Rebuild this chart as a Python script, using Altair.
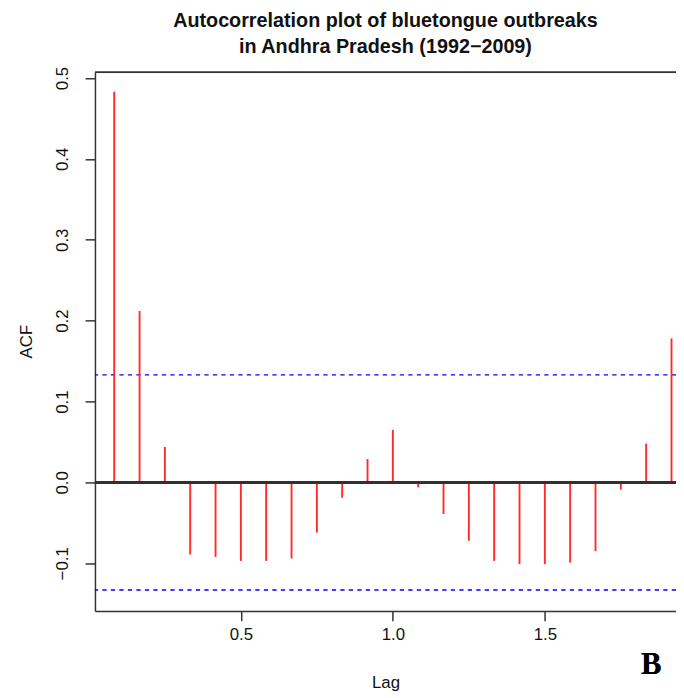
import altair as alt
import pandas as pd

# Lag (in years, monthly data) and autocorrelation values
lags = [0.0833, 0.1667, 0.25, 0.3333, 0.4167, 0.5, 0.5833, 0.6667, 0.75, 0.8333,
        0.9167, 1.0, 1.0833, 1.1667, 1.25, 1.3333, 1.4167, 1.5, 1.5833, 1.6667,
        1.75, 1.8333, 1.9167]
acf_vals = [0.483, 0.212, 0.044, -0.089, -0.092, -0.097, -0.097, -0.094, -0.062, -0.019,
            0.029, 0.065, -0.006, -0.039, -0.072, -0.097, -0.101, -0.101, -0.099, -0.085,
            -0.009, 0.048, 0.178]
ci_levels = [0.133, -0.133]
x_ticks = [0.5, 1.0, 1.5]
y_ticks = [-0.1, 0.0, 0.1, 0.2, 0.3, 0.4, 0.5]
title_lines = ["Autocorrelation plot of bluetongue outbreaks", "in Andhra Pradesh (1992\u22122009)"]

bars_df = pd.DataFrame({"lag": lags, "acf": acf_vals})
ci_df = pd.DataFrame({"ci": ci_levels})

FONT = "Liberation Sans"
AX = "#333333"

x_scale = alt.Scale(domain=[0.020, 1.9315], zero=False, nice=False)
y_scale = alt.Scale(domain=[-0.1588, 0.507], zero=False, nice=False)

x_axis = alt.Axis(values=x_ticks, format=".1f", grid=False, tickSize=10, tickWidth=1.5,
                  tickColor=AX, domainColor=AX, domainWidth=1.5, labelFont=FONT,
                  labelFontSize=17, labelColor="#111111", labelPadding=6,
                  title="Lag", titleFont=FONT, titleFontSize=17, titleFontWeight="normal",
                  titleColor="#111111", titleBaseline="alphabetic", titleY=78)
y_axis = alt.Axis(values=y_ticks, format=".1f", grid=False, tickSize=10, tickWidth=1.5,
                  tickColor=AX, domainColor=AX, domainWidth=1.5, labelFont=FONT,
                  labelFontSize=17, labelColor="#111111", labelAngle=270,
                  labelAlign="center", labelBaseline="bottom", labelPadding=14,
                  title="ACF", titleFont=FONT, titleFontSize=17, titleFontWeight="normal",
                  titleColor="#111111", titleAngle=270, titleBaseline="alphabetic",
                  titleX=-64, titleY=272, titleAlign="center")

bars = alt.Chart(bars_df).mark_rule(color="#ff2a2a", strokeWidth=1.9).encode(
    x=alt.X("lag:Q", scale=x_scale, axis=x_axis),
    y=alt.Y("acf:Q", scale=y_scale, axis=y_axis),
    y2=alt.datum(0),
)

zero_line = alt.Chart(bars_df).mark_rule(color=AX, strokeWidth=1.5).encode(
    y=alt.datum(0)
)

ci_lines = alt.Chart(ci_df).mark_rule(color="#0000ff", strokeWidth=1.5,
                                      strokeDash=[4.3, 4.3]).encode(
    y=alt.Y("ci:Q", scale=y_scale, axis=y_axis)
)

top_border = alt.Chart(ci_df).mark_rule(color=AX, strokeWidth=1.5).encode(
    y=alt.value(0)
)

label_b = alt.Chart(ci_df).mark_text(text="B", font="Liberation Serif", fontSize=31,
                                     fontWeight="bold", color="black", align="center",
                                     baseline="alphabetic").encode(
    x=alt.value(563), y=alt.value(609)
)

chart = alt.layer(ci_lines, bars, zero_line, top_border, label_b).properties(
    width=588,
    height=545,
    title=alt.TitleParams(text=title_lines, font=FONT, fontSize=20, fontWeight="bold",
                          color="#111111", anchor="middle", offset=9, lineHeight=27),
    autosize=alt.AutoSizeParams(type="none"),
    padding={"left": 88, "top": 61, "right": 0, "bottom": 82},
).configure_view(stroke=None).configure(background="white")

chart.save("out.html", embed_options={"renderer": "svg", "actions": False})
